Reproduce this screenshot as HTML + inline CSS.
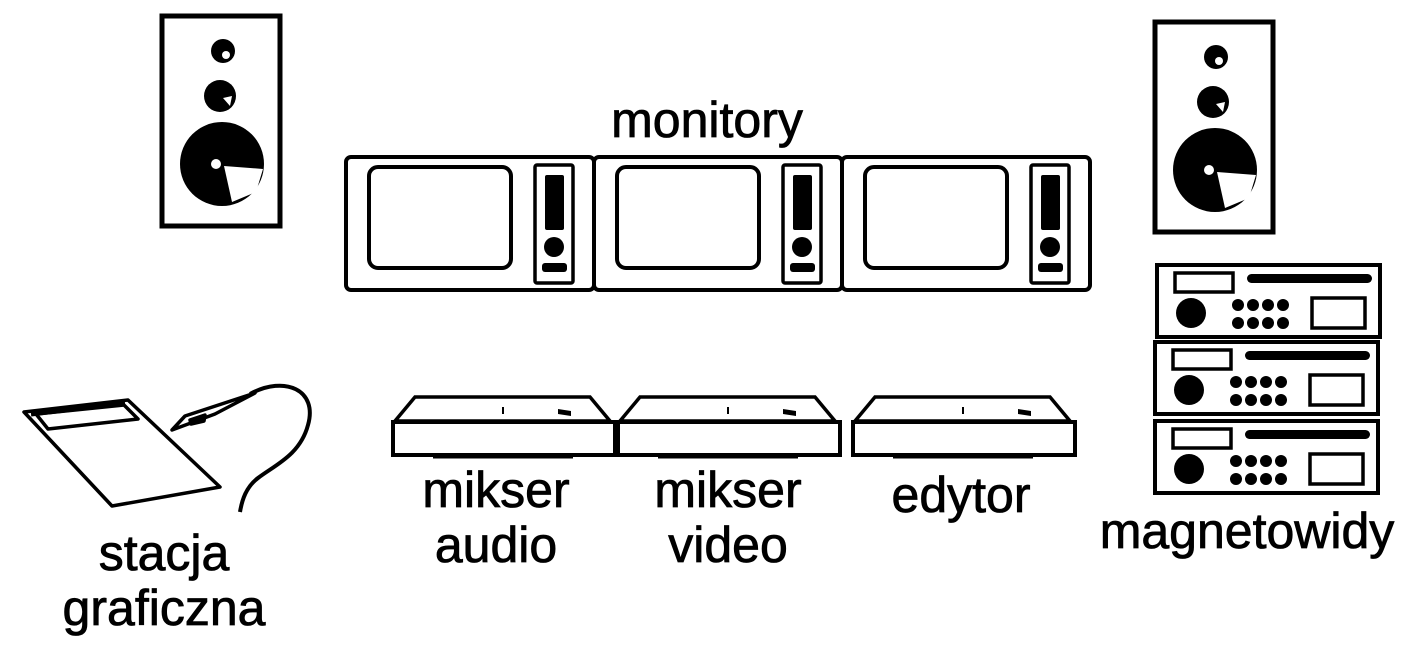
<!DOCTYPE html>
<html><head><meta charset="utf-8"><style>
html,body{margin:0;padding:0;background:#fff;}
svg{display:block;}
text{font-family:"Liberation Sans",Arial,sans-serif;font-size:50px;fill:#000;stroke:#000;stroke-width:0.8px;}
</style></head><body>
<svg width="1405" height="655" viewBox="0 0 1405 655" xmlns="http://www.w3.org/2000/svg">
<defs>
<g id="spk">
  <rect x="2" y="2" width="118" height="210" fill="none" stroke="#000" stroke-width="5"/>
  <circle cx="63" cy="37" r="12" fill="#000"/><circle cx="66" cy="41" r="4" fill="#fff"/>
  <circle cx="60" cy="82" r="16" fill="#000"/><path d="M63 84 L72 82 L70 92 Z" fill="#fff"/>
  <circle cx="62" cy="150" r="42" fill="#000"/>
  <path d="M64 152 L103 155 L96 178 L72 188 Z" fill="#fff"/>
  <circle cx="56" cy="150" r="5" fill="#fff"/>
</g>
<g id="mon">
  <rect x="0" y="0" width="248" height="133" rx="5" fill="none" stroke="#000" stroke-width="4"/>
  <rect x="23" y="10" width="142" height="101" rx="9" fill="none" stroke="#000" stroke-width="4"/>
  <rect x="189" y="8" width="38" height="118" rx="2" fill="none" stroke="#000" stroke-width="3.5"/>
  <rect x="199" y="18" width="19" height="55" rx="2" fill="#000"/>
  <circle cx="208" cy="90" r="10" fill="#000"/>
  <rect x="196" y="106" width="25" height="9" rx="3" fill="#000"/>
</g>
<g id="mix">
  <path d="M22 0 L197 0 L217 24 L2 24 Z" fill="none" stroke="#000" stroke-width="3.5"/>
  <rect x="0" y="25" width="222" height="33" fill="#fff" stroke="#000" stroke-width="4"/>
  <line x1="110" y1="10" x2="110" y2="17" stroke="#000" stroke-width="2"/>
  <path d="M165 12 L178 14 L178 19 L165 17 Z" fill="#000"/>
  <line x1="40" y1="60" x2="180" y2="60" stroke="#000" stroke-width="3"/>
</g>
<g id="vcr">
  <rect x="0" y="0" width="223" height="72" fill="none" stroke="#000" stroke-width="4"/>
  <rect x="18" y="8" width="58" height="19" fill="none" stroke="#000" stroke-width="3.5"/>
  <rect x="90" y="9" width="125" height="9" rx="4.5" fill="#000"/>
  <circle cx="34" cy="48" r="15" fill="#000"/>
  <g fill="#000">
    <circle cx="81" cy="40" r="6"/><circle cx="96" cy="40" r="6"/><circle cx="111" cy="40" r="6"/><circle cx="126" cy="40" r="6"/>
    <circle cx="81" cy="58" r="6"/><circle cx="96" cy="58" r="6"/><circle cx="111" cy="58" r="6"/><circle cx="126" cy="58" r="6"/>
  </g>
  <rect x="155" y="33" width="53" height="30" fill="none" stroke="#000" stroke-width="3.5"/>
</g>
</defs>

<use href="#spk" x="160" y="14"/>
<use href="#spk" x="1153" y="20"/>

<use href="#mon" x="346" y="157"/>
<use href="#mon" x="594" y="157"/>
<use href="#mon" x="842" y="157"/>

<use href="#mix" x="393" y="397"/>
<use href="#mix" x="618" y="397"/>
<use href="#mix" x="853" y="397"/>

<use href="#vcr" x="1157" y="265"/>
<use href="#vcr" x="1155" y="342"/>
<use href="#vcr" x="1155" y="421"/>

<g fill="none" stroke="#000" stroke-width="3.5" stroke-linejoin="round">
  <path d="M24 412 L128 400 L220 487 L112 506 Z"/>
  <path d="M36 414 L124 405 L138 419 L48 429 Z"/>
  <path d="M31 414 L125 403" stroke-width="5"/>
  <path d="M172 430 L185 416 L255 393 L215 414 Z"/>
  <path d="M190 420 L205 415 L204 421 L191 424 Z" fill="#000"/>
  <path d="M250 394 C285 375 318 390 308 425 C300 455 275 465 258 478 C246 487 242 500 240 512" stroke-width="4"/>
</g>

<text x="707" y="137" text-anchor="middle">monitory</text>
<text x="496" y="507" text-anchor="middle">mikser</text>
<text x="496" y="562" text-anchor="middle">audio</text>
<text x="728" y="507" text-anchor="middle">mikser</text>
<text x="728" y="562" text-anchor="middle">video</text>
<text x="961" y="512" text-anchor="middle">edytor</text>
<text x="1247" y="548" text-anchor="middle">magnetowidy</text>
<text x="164" y="570" text-anchor="middle">stacja</text>
<text x="164" y="625" text-anchor="middle">graficzna</text>
</svg>
</body></html>
